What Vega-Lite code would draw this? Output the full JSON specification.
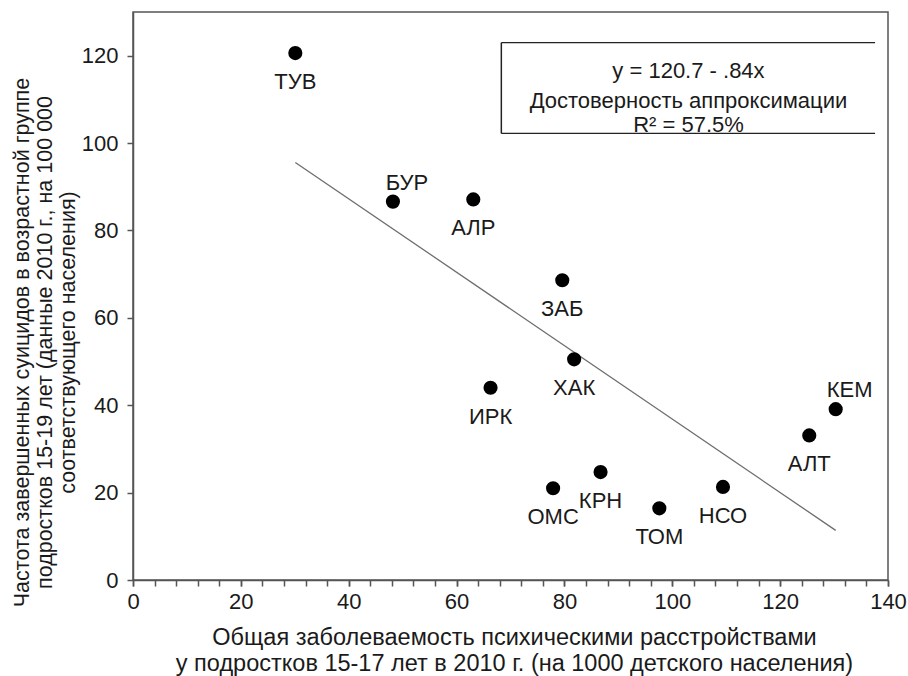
{
  "$schema": "https://vega.github.io/schema/vega-lite/v6.json",
  "width": 755,
  "height": 568,
  "autosize": "none",
  "padding": {"left": 133, "top": 12, "right": 20, "bottom": 96},
  "background": "white",
  "config": {
    "font": "Liberation Sans",
    "view": {"stroke": "#555", "strokeWidth": 1.5},
    "axis": {
      "grid": false,
      "domainColor": "#555",
      "domainWidth": 1.5,
      "tickColor": "#555",
      "tickWidth": 1.5,
      "tickSize": 6,
      "labelFontSize": 22,
      "labelColor": "#1a1a1a",
      "titleFontWeight": "normal",
      "titleColor": "#1a1a1a",
      "labelFlush": false,
      "labelBound": false
    }
  },
  "datasets": {
    "regions": [
      {"region": "ТУВ", "morbidity": 30.1, "suicide": 120.6},
      {"region": "БУР", "morbidity": 48.2, "suicide": 86.6},
      {"region": "АЛР", "morbidity": 63.1, "suicide": 87.1},
      {"region": "ЗАБ", "morbidity": 79.6, "suicide": 68.6},
      {"region": "ХАК", "morbidity": 81.8, "suicide": 50.5},
      {"region": "ИРК", "morbidity": 66.3, "suicide": 44.0},
      {"region": "ОМС", "morbidity": 77.9, "suicide": 21.0},
      {"region": "КРН", "morbidity": 86.7, "suicide": 24.7},
      {"region": "ТОМ", "morbidity": 97.6, "suicide": 16.4},
      {"region": "НСО", "morbidity": 109.4, "suicide": 21.3},
      {"region": "АЛТ", "morbidity": 125.4, "suicide": 33.1},
      {"region": "КЕМ", "morbidity": 130.3, "suicide": 39.1}
    ],
    "note": [
      {"l1": "y = 120.7 - .84x", "l2": "Достоверность аппроксимации", "l3": "R² = 57.5%"}
    ]
  },
  "data": {"name": "regions"},
  "resolve": {"scale": {"x": "shared", "y": "shared"}, "axis": {"x": "independent"}},
  "layer": [
    {
      "transform": [{"regression": "suicide", "on": "morbidity"}],
      "mark": {"type": "line", "color": "#6e6e6e", "strokeWidth": 1.3},
      "encoding": {
        "x": {
          "field": "morbidity", "type": "quantitative",
          "scale": {"domain": [0, 140], "nice": false, "zero": false},
          "axis": {
            "orient": "bottom",
            "values": [0, 20, 40, 60, 80, 100, 120, 140],
            "labelOverlap": false,
            "labelPadding": 5,
            "title": ["Общая заболеваемость психическими расстройствами", "у подростков 15-17 лет в 2010 г.  (на 1000 детского населения)"],
            "titleFontSize": 23.5,
            "titleLineHeight": 26,
            "titleBaseline": "middle",
            "titleY": 57,
            "titleX": 381
          }
        },
        "y": {
          "field": "suicide", "type": "quantitative",
          "scale": {"domain": [0, 130], "nice": false, "zero": false},
          "axis": {
            "values": [0, 20, 40, 60, 80, 100, 120],
            "labelOverlap": false,
            "labelPadding": 9,
            "title": ["Частота завершенных суицидов в возрастной группе", "подростков 15-19 лет (данные 2010 г., на 100 000", "соответствующего населения)"],
            "titleFontSize": 21.5,
            "titleLineHeight": 23,
            "titleAngle": -90,
            "titleBaseline": "middle",
            "titleX": -111,
            "titleY": 330
          }
        }
      }
    },
    {
      "mark": {"type": "circle", "size": 200, "color": "black", "opacity": 1},
      "encoding": {
        "x": {
          "field": "morbidity", "type": "quantitative",
          "axis": {
            "orient": "bottom",
            "values": [0,4,8,12,16,20,24,28,32,36,40,44,48,52,56,60,64,68,72,76,80,84,88,92,96,100,104,108,112,116,120,124,128,132,136,140],
            "labels": false,
            "domain": false,
            "title": null
          }
        },
        "y": {"field": "suicide", "type": "quantitative"}
      }
    },
    {
      "transform": [{"filter": "datum.region !== 'БУР' && datum.region !== 'КЕМ'"}],
      "mark": {"type": "text", "fontSize": 22, "color": "#1a1a1a", "baseline": "middle", "align": "center", "dy": 29},
      "encoding": {
        "x": {"field": "morbidity", "type": "quantitative", "axis": null},
        "y": {"field": "suicide", "type": "quantitative"},
        "text": {"field": "region"}
      }
    },
    {
      "transform": [{"filter": "datum.region === 'БУР' || datum.region === 'КЕМ'"}],
      "mark": {"type": "text", "fontSize": 22, "color": "#1a1a1a", "baseline": "middle", "align": "center", "dx": 14, "dy": -19},
      "encoding": {
        "x": {"field": "morbidity", "type": "quantitative", "axis": null},
        "y": {"field": "suicide", "type": "quantitative"},
        "text": {"field": "region"}
      }
    },
    {
      "data": {"name": "note"},
      "mark": {"type": "rect", "fill": "white", "stroke": null},
      "encoding": {
        "x": {"datum": 68.3, "type": "quantitative", "axis": null},
        "x2": {"datum": 137.6},
        "y": {"datum": 123.0, "type": "quantitative"},
        "y2": {"datum": 102.2}
      }
    },
    {
      "data": {"name": "note"},
      "mark": {"type": "text", "fontSize": 22, "color": "#1a1a1a", "baseline": "middle", "align": "center"},
      "encoding": {
        "x": {"datum": 103.0, "type": "quantitative", "axis": null},
        "y": {"datum": 116.6, "type": "quantitative"},
        "text": {"field": "l1"}
      }
    },
    {
      "data": {"name": "note"},
      "mark": {"type": "text", "fontSize": 22, "color": "#1a1a1a", "baseline": "middle", "align": "center"},
      "encoding": {
        "x": {"datum": 103.0, "type": "quantitative", "axis": null},
        "y": {"datum": 109.7, "type": "quantitative"},
        "text": {"field": "l2"}
      }
    },
    {
      "data": {"name": "note"},
      "mark": {"type": "text", "fontSize": 22, "color": "#1a1a1a", "baseline": "middle", "align": "center"},
      "encoding": {
        "x": {"datum": 103.0, "type": "quantitative", "axis": null},
        "y": {"datum": 104.1, "type": "quantitative"},
        "text": {"field": "l3"}
      }
    },
    {
      "data": {"name": "note"},
      "mark": {"type": "rule", "color": "#222", "strokeWidth": 1.5},
      "encoding": {
        "x": {"datum": 68.3, "type": "quantitative", "axis": null},
        "y": {"datum": 123.0, "type": "quantitative"},
        "y2": {"datum": 102.2}
      }
    },
    {
      "data": {"name": "note"},
      "mark": {"type": "rule", "color": "#222", "strokeWidth": 1.2},
      "encoding": {
        "x": {"datum": 68.3, "type": "quantitative", "axis": null},
        "x2": {"datum": 137.6},
        "y": {"datum": 123.0, "type": "quantitative"}
      }
    },
    {
      "data": {"name": "note"},
      "mark": {"type": "rule", "color": "#222", "strokeWidth": 1.2},
      "encoding": {
        "x": {"datum": 68.3, "type": "quantitative", "axis": null},
        "x2": {"datum": 137.6},
        "y": {"datum": 102.2, "type": "quantitative"}
      }
    }
  ]
}
